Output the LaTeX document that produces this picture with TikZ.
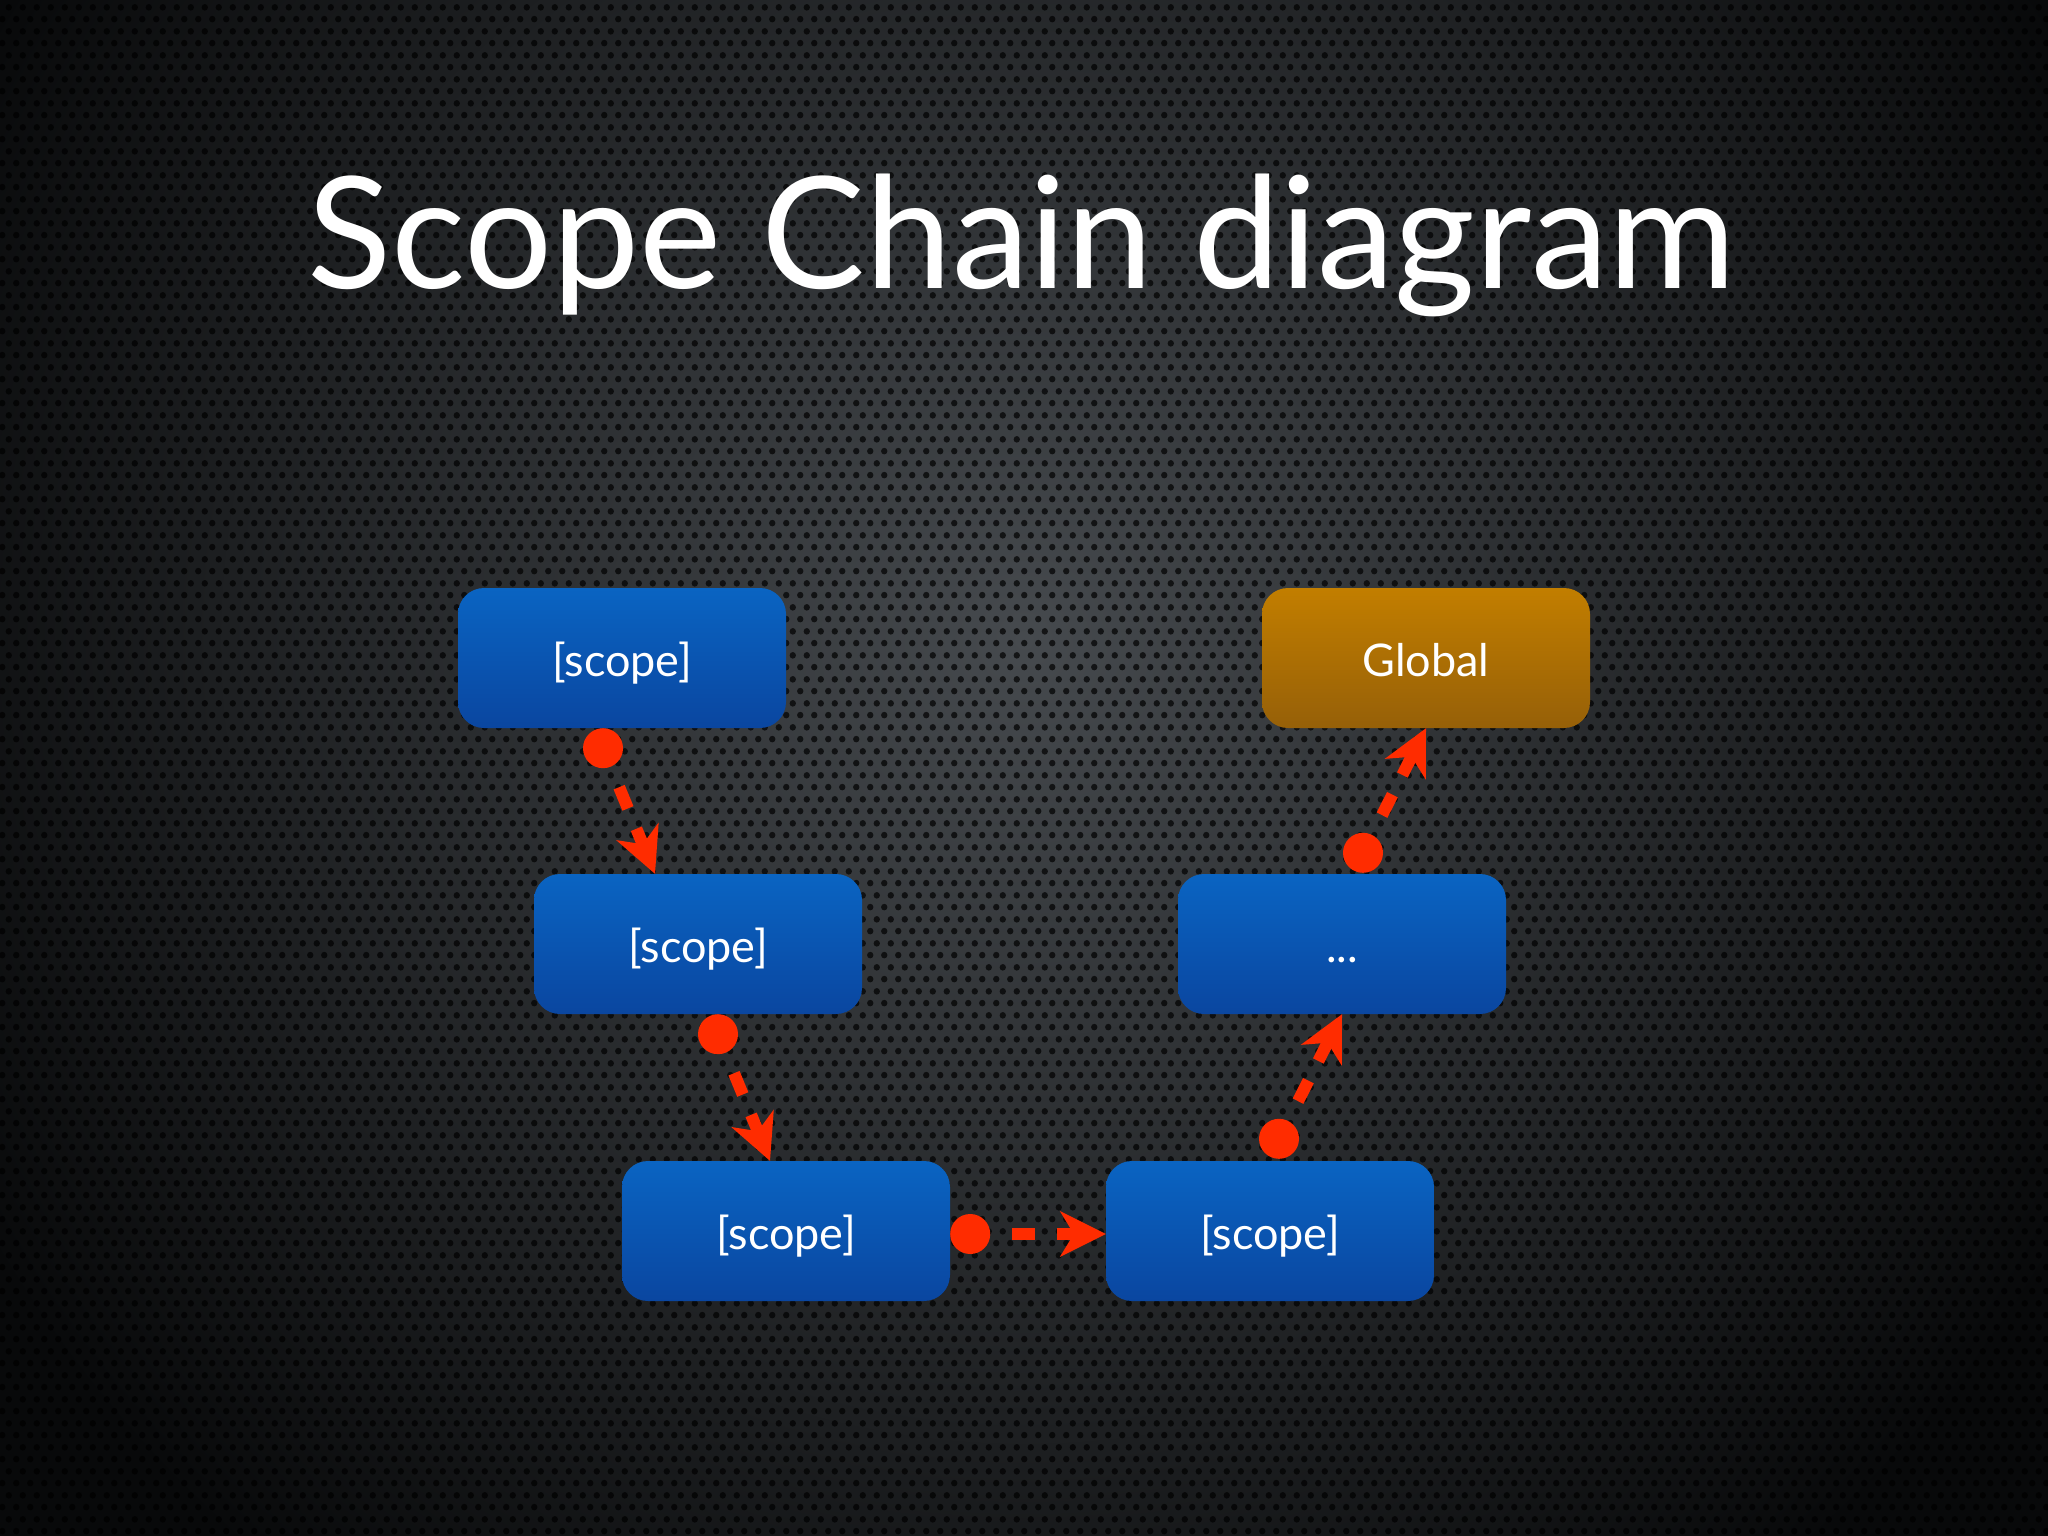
\documentclass[tikz,border=0pt]{standalone}
\usepackage{fontspec}
\setmainfont{Lato}
\usetikzlibrary{arrows.meta,calc,patterns.meta}
\definecolor{bgin}{HTML}{464a4e}
\definecolor{bgout}{HTML}{08090A}
\definecolor{bluetop}{HTML}{0A64C2}
\definecolor{bluebot}{HTML}{0A46A0}
\definecolor{goldtop}{HTML}{C27E00}
\definecolor{goldbot}{HTML}{966008}
\definecolor{chainred}{HTML}{FF2C00}
\tikzdeclarepattern{
  name=holes,
  type=uncolored,
  bottom left={(0pt,0pt)},
  top right={(14pt,24.25pt)},
  tile size={(14pt,24.25pt)},
  code={\fill (3.5pt,6.06pt) circle (3.4pt); \fill (10.5pt,18.19pt) circle (3.4pt);}
}
\tikzset{
  box/.style={rectangle, rounded corners=26pt, minimum width=328pt, minimum height=140pt,
    inner sep=0pt, text=white, font=\fontsize{45}{52}\selectfont, text height=36pt, text depth=0pt},
  bluebox/.style={box, top color=bluetop, bottom color=bluebot},
  goldbox/.style={box, top color=goldtop, bottom color=goldbot},
  dotnode/.style={circle, fill=chainred, minimum size=40pt, inner sep=0pt},
  chain/.style={draw=chainred, line width=12pt, dash pattern=on 23pt off 22pt, dash phase=23pt,
    -{Stealth[length=46pt,width=46pt,inset=14pt,line width=0pt]}},
  titletext/.style={anchor=base west, inner sep=0pt, text=white, font=\fontsize{155.5}{190}\selectfont}
}
\begin{document}
\begin{tikzpicture}[x=1pt,y=-1pt]
\useasboundingbox (0,0) rectangle (2048,1536);
% background
\fill[bgout] (0,0) rectangle (2048,1536);
\begin{scope}
  \clip (0,0) rectangle (2048,1536);
  \shade[inner color=bgin, outer color=bgout] (1024,640) circle (1200);
\end{scope}
\fill[pattern=holes, pattern color=black, opacity=0.7] (0,0) rectangle (2048,1536);

% title
\node[titletext] (title) at (307,288) {Scope Chain diagram};

% boxes
\node[bluebox] (b1) at (622,658) {[scope]};
\node[bluebox] (b2) at (698,944) {[scope]};
\node[bluebox] (b3) at (786,1231) {[scope]};
\node[bluebox] (b4) at (1270,1231) {[scope]};
\node[bluebox] (b5) at (1342,944) {...};
\node[goldbox] (glob) at (1426,658) {Global};

% start dots
\node[dotnode] (d1) at ($(b1.south)+(-19,20)$) {};
\node[dotnode] (d2) at ($(b2.south)+(20,20)$) {};
\node[dotnode] (d3) at ($(b3.east)+(20,3)$) {};
\node[dotnode] (d4) at ($(b4.north)+(9,-22)$) {};
\node[dotnode] (d5) at ($(b5.north)+(21,-21)$) {};

% arrow ends
\coordinate (t1) at ($(b2.north)+(-43,0)$);
\coordinate (t2) at ($(b3.north)+(-16,0)$);
\coordinate (t3) at ($(b4.west)+(0,3)$);
\coordinate (t4) at (b5.south);
\coordinate (t5) at (glob.south);

\draw[chain] (d1) -- (t1);
\draw[chain] (d2) -- (t2);
\draw[chain] (d3) -- (t3);
\draw[chain] (d4) -- (t4);
\draw[chain] (d5) -- (t5);
\end{tikzpicture}
\end{document}
